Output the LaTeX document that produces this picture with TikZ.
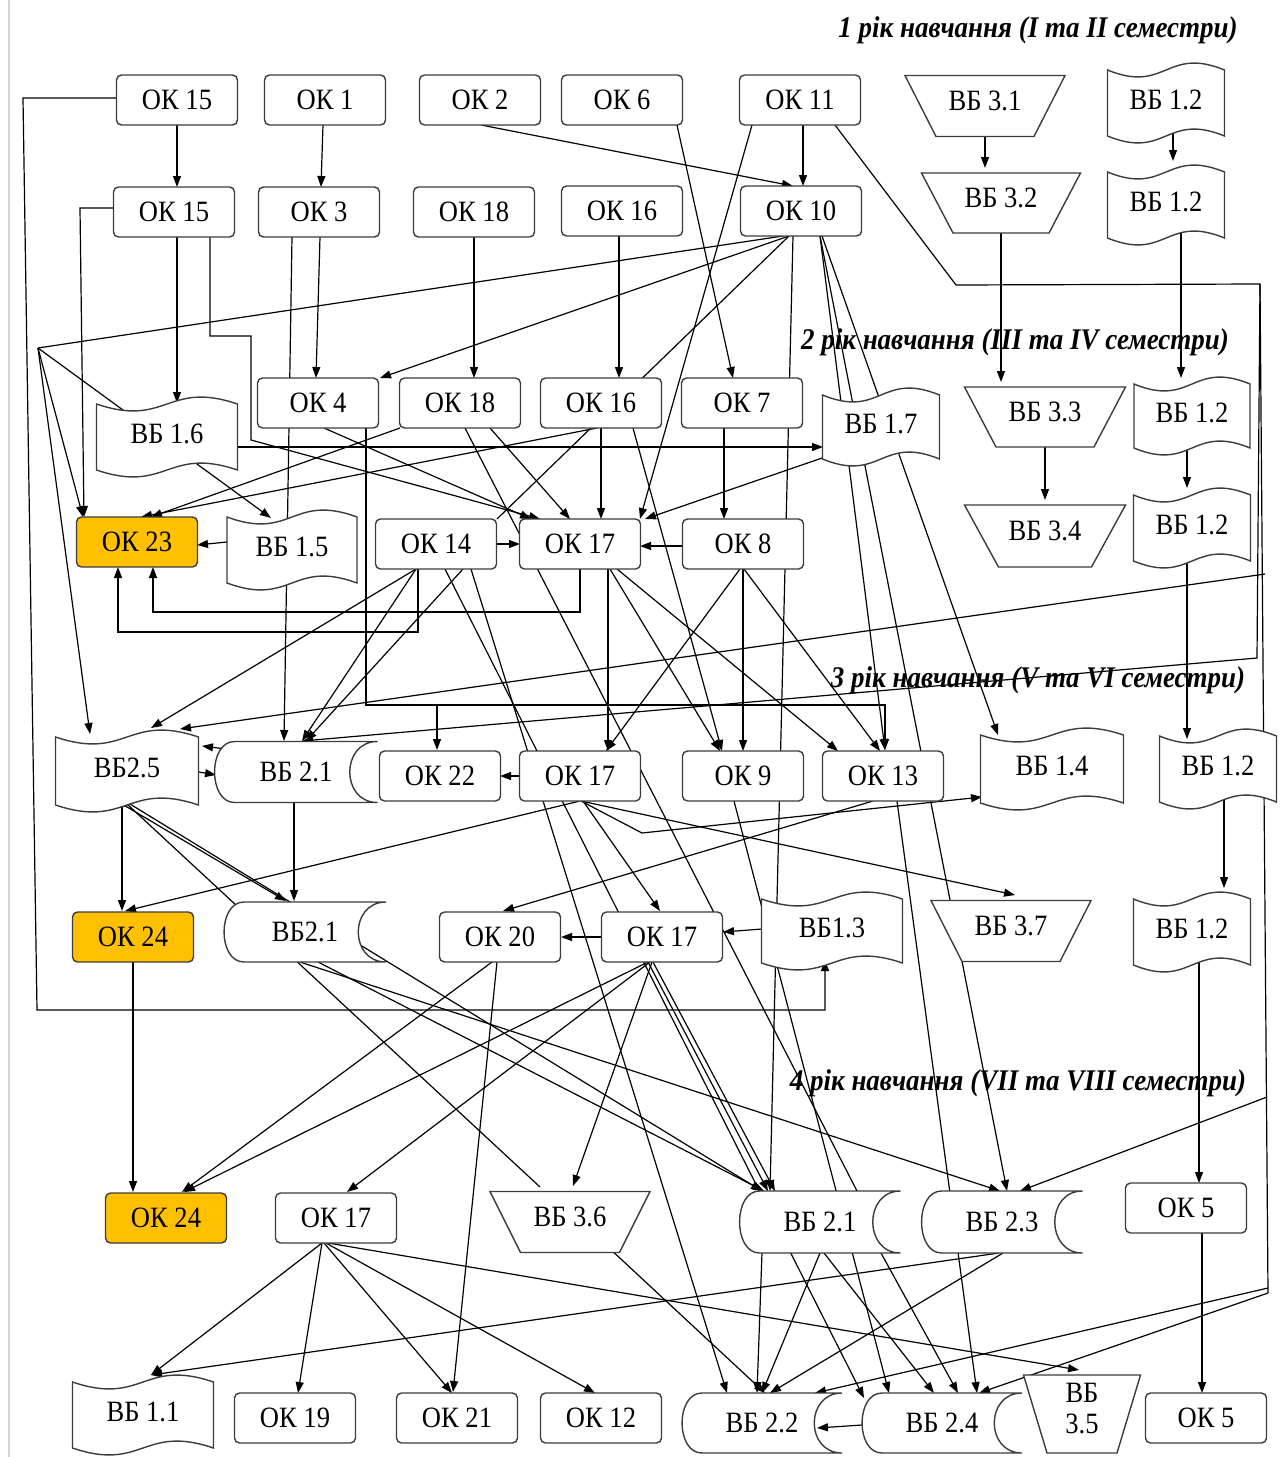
\documentclass[tikz,border=0pt]{standalone}
\usepackage{fontspec}
\setmainfont{Liberation Serif}[FakeStretch=0.9]
\usetikzlibrary{arrows.meta,calc}
\definecolor{bordc}{HTML}{3C3C3C}
\definecolor{okor}{HTML}{FFC000}
\pgfdeclarelayer{bg}
\pgfsetlayers{bg,main}
\newcommand\nodefont{\fontsize{29.5}{31}\selectfont}
\newcommand\labfont{\fontsize{30}{32}\selectfont\bfseries\itshape}
\tikzset{
 okst/.style={draw=bordc, line width=1.4pt, rounded corners=5pt, fill=white, minimum width=121pt, minimum height=50pt, inner sep=0pt, font=\nodefont},
 hlbox/.style={fill=okor},
 shp/.style={draw=bordc, line width=1.4pt, fill=white},
 txt/.style={inner sep=0pt, font=\nodefont},
 con/.style={line width=1.2pt, black},
 arr/.style={con, -{Triangle[length=11pt,width=8pt]}},
 lab/.style={font=\labfont, inner sep=0pt},
}
\newcommand\flagshape[6]{%
 \pgfmathsetmacro\fxa{#2-#4/2}\pgfmathsetmacro\fxb{#2+#4/2}%
 \pgfmathsetmacro\fya{#3-#5/2+7}\pgfmathsetmacro\fyb{#3+#5/2-7}%
 \pgfmathsetmacro\fyau{\fya+24}\pgfmathsetmacro\fyad{\fya-24}%
 \pgfmathsetmacro\fybu{\fyb-24}\pgfmathsetmacro\fybd{\fyb+24}%
 \filldraw[shp] (\fxa,\fya) .. controls (#2,\fyau) and (#2,\fyad) .. (\fxb,\fya) -- (\fxb,\fyb) .. controls (#2,\fybu) and (#2,\fybd) .. (\fxa,\fyb) -- cycle;
 \node[txt,yshift=3pt] (#1) at (#2,#3) {#6};}
\newcommand\storeshape[6]{%
 \pgfmathsetmacro\sxa{#2-#4/2}\pgfmathsetmacro\sxb{#2+#4/2}%
 \pgfmathsetmacro\sya{#3-#5/2}\pgfmathsetmacro\syb{#3+#5/2}%
 \pgfmathsetmacro\sxl{\sxa+20}\pgfmathsetmacro\sxlc{\sxa-6.6}%
 \pgfmathsetmacro\sxrc{\sxb-37}%
 \filldraw[shp] (\sxl,\sya) -- (\sxb,\sya) .. controls (\sxrc,\sya) and (\sxrc,\syb) .. (\sxb,\syb) -- (\sxl,\syb) .. controls (\sxlc,\syb) and (\sxlc,\sya) .. cycle;
 \node[txt] (#1) at (#2,#3) {#6};}
\newcommand\trapshape[7]{%
 \pgfmathsetmacro\txa{#2-#4/2}\pgfmathsetmacro\txb{#2+#4/2}%
 \pgfmathsetmacro\txc{#2-#5/2}\pgfmathsetmacro\txd{#2+#5/2}%
 \pgfmathsetmacro\tya{#3-#6/2}\pgfmathsetmacro\tyb{#3+#6/2}%
 \filldraw[shp] (\txa,\tya) -- (\txb,\tya) -- (\txd,\tyb) -- (\txc,\tyb) -- cycle;
 \node[txt,align=center,yshift=5pt] (#1) at (#2,#3) {#7};}
\begin{document}
\begin{tikzpicture}[x=1pt,y=-1pt]
\useasboundingbox (0,0) rectangle (1281,1457);
\draw[gray!35, line width=2pt] (9,0) -- (9,1457);
% row 1
\node[okst] (ok15a) at (177,100) {ОК 15};
\node[okst] (ok1) at (325,100) {ОК 1};
\node[okst] (ok2) at (480,100) {ОК 2};
\node[okst] (ok6) at (622,100) {ОК 6};
\node[okst] (ok11) at (800,100) {ОК 11};
\trapshape{vb31}{985}{106}{160}{98}{61}{ВБ 3.1}
\flagshape{vb12a}{1166}{103}{117}{80}{ВБ 1.2}
% row 2
\node[okst] (ok15b) at (174,212) {ОК 15};
\node[okst] (ok3) at (319,212) {ОК 3};
\node[okst] (ok18a) at (474,212) {ОК 18};
\node[okst] (ok16a) at (622,211) {ОК 16};
\node[okst] (ok10) at (801,211) {ОК 10};
\trapshape{vb32}{1001}{203}{159}{96}{60}{ВБ 3.2}
\flagshape{vb12b}{1166}{205}{117}{80}{ВБ 1.2}
% row 3
\node[okst] (ok4) at (318,403) {ОК 4};
\node[okst] (ok18b) at (460,403) {ОК 18};
\node[okst] (ok16b) at (601,403) {ОК 16};
\node[okst] (ok7) at (742,403) {ОК 7};
\flagshape{vb17}{881}{427}{117}{78}{ВБ 1.7}
\trapshape{vb33}{1045}{417}{161}{98}{60}{ВБ 3.3}
\flagshape{vb12c}{1192}{416}{116}{78}{ВБ 1.2}
\flagshape{vb16}{167}{437}{141}{80}{ВБ 1.6}
% row 4
\node[okst,hlbox] (ok23) at (137,542) {ОК 23};
\flagshape{vb15}{292}{550}{130}{80}{ВБ 1.5}
\node[okst] (ok14) at (436,544) {ОК 14};
\node[okst] (ok17a) at (580,544) {ОК 17};
\node[okst] (ok8) at (743,544) {ОК 8};
\trapshape{vb34}{1045}{536}{161}{93}{62}{ВБ 3.4}
\flagshape{vb12d}{1192}{528}{117}{80}{ВБ 1.2}
% row 5
\flagshape{vb25}{127}{771}{143}{82}{ВБ2.5}
\storeshape{vb21a}{296}{772}{163}{61}{ВБ 2.1}
\node[okst] (ok22) at (440,776) {ОК 22};
\node[okst] (ok17b) at (580,776) {ОК 17};
\node[okst] (ok9) at (743,776) {ОК 9};
\node[okst] (ok13) at (883,776) {ОК 13};
\flagshape{vb14}{1052}{769}{143}{82}{ВБ 1.4}
\flagshape{vb12e}{1218}{769}{117}{80}{ВБ 1.2}
% row 6
\node[okst,hlbox] (ok24a) at (133,937) {ОК 24};
\storeshape{vb21b}{305}{932}{162}{60}{ВБ2.1}
\node[okst] (ok20) at (500,937) {ОК 20};
\node[okst] (ok17c) at (662,937) {ОК 17};
\flagshape{vb13}{832}{931}{141}{78}{ВБ1.3}
\trapshape{vb37}{1011}{931}{160}{98}{61}{ВБ 3.7}
\flagshape{vb12f}{1192}{932}{117}{80}{ВБ 1.2}
% row 7
\node[okst,hlbox] (ok24b) at (166,1218) {ОК 24};
\node[okst] (ok17d) at (336,1218) {ОК 17};
\trapshape{vb36}{570}{1222}{160}{99}{61}{ВБ 3.6}
\storeshape{vb21c}{820}{1222}{161}{62}{ВБ 2.1}
\storeshape{vb23}{1002}{1222}{161}{62}{ВБ 2.3}
\node[okst] (ok5a) at (1186,1208) {ОК 5};
% row 8
\flagshape{vb11}{143}{1415}{141}{80}{ВБ 1.1}
\node[okst] (ok19) at (295,1418) {ОК 19};
\node[okst] (ok21) at (457,1418) {ОК 21};
\node[okst] (ok12) at (601,1418) {ОК 12};
\storeshape{vb22}{762}{1423}{160}{60}{ВБ 2.2}
\storeshape{vb24}{942}{1423}{160}{60}{ВБ 2.4}
\trapshape{vb35}{1082}{1414}{117}{70}{78}{ВБ\\3.5}
\node[okst] (ok5b) at (1206,1418) {ОК 5};
% labels
\node[lab] (l1) at (1038,30) {1 рік навчання (I та II семестри)};
\node[lab] (l2) at (1015,342) {2 рік навчання (III та IV семестри)};
\node[lab] (l3) at (1038,680) {3 рік навчання (V та VI семестри)};
\node[lab] (l4) at (1018,1083) {4 рік навчання (VII та VIII семестри)};
% bend points
\coordinate (hub) at (38,348);
\coordinate (kneeA) at (956,285);
\coordinate (busT) at (1260,284);
\coordinate (busC) at (1257,658);
\coordinate (busA) at (1265,574);
\coordinate (busD) at (1267,1097);
\coordinate (busE) at (1268,1288);
\coordinate (busB) at (1268,1293);
\coordinate (lpA) at (23,98);
\coordinate (lpB) at (37,1010);
\coordinate (lpC) at (825,1010);
\coordinate (lpD) at (80,208);
\coordinate (lq1) at (210,336);
\coordinate (lq2) at (251,336);
\coordinate (lq3) at (251,440);
\coordinate (r1) at (366,705);
\coordinate (r2) at (885,705);
\coordinate (r3) at (437,705);
\coordinate (u1) at (418,632);
\coordinate (u2) at (118,632);
\coordinate (v1) at (580,612);
\coordinate (v2) at (153,612);
\coordinate (w1) at (642,833);
\begin{pgfonlayer}{bg}
% top
\draw[arr] ($(ok15a)+(0,25)$) -- ($(ok15b)+(3,-25)$);
\draw[arr] ($(ok1)+(-2,25)$) -- ($(ok3)+(2,-25)$);
\draw[arr] ($(ok11)+(3,25)$) -- ($(ok10)+(2,-25)$);
\draw[arr] ($(ok2)+(1,25)$) -- ($(ok10)+(-8,-25)$);
\draw[arr] ($(ok6)+(55,25)$) -- ($(ok7)+(-9,-25)$);
\draw[arr] ($(ok11)+(-48,25)$) -- ($(ok17a)+(60,-25)$);
\draw[arr] ($(ok11)+(35,25)$) -- (kneeA) -- (busT) -- (busC) -- ($(vb21a)+(6,-31)$);
\draw[con] (busT) -- (busB);
\draw[arr] (busA) -- ($(vb25)+(53,-39)$);
\draw[arr] (busD) -- ($(vb23)+(18,-31)$);
\draw[arr] (busE) -- ($(vb22)+(53,-30)$);
\draw[arr] (busB) -- ($(vb24)+(37,-30)$);
% right chains
\draw[arr] ($(vb31)+(0,26)$) -- ($(vb32)+(-16,-30)$);
\draw[arr] ($(vb12a)+(7,27)$) -- ($(vb12b)+(7,-41)$);
\draw[arr] ($(vb32)+(0,25)$) -- ($(vb33)+(-44,-30)$);
\draw[arr] ($(vb12b)+(15,30)$) -- ($(vb12c)+(-11,-35)$);
\draw[arr] ($(vb33)+(0,25)$) -- ($(vb34)+(0,-31)$);
\draw[arr] ($(vb12c)+(-5,34)$) -- ($(vb12d)+(-5,-37)$);
\draw[arr] ($(vb12d)+(-5,31)$) -- ($(vb12e)+(-31,-27)$);
\draw[arr] ($(vb12e)+(6,30)$) -- ($(vb12f)+(32,-41)$);
\draw[arr] ($(vb12f)+(7,33)$) -- ($(ok5a)+(13,-25)$);
\draw[arr] ($(ok5a)+(16,25)$) -- ($(ok5b)+(-4,-25)$);
% left loops
\draw[arr] ($(ok15a)+(-61,-2)$) -- (lpA) -- (lpB) -- (lpC) -- ($(vb13)+(-7,32)$);
\draw[arr] ($(ok15b)+(-61,-4)$) -- (lpD) -- ($(ok23)+(-53,-25)$);
\draw[arr] ($(ok15b)+(3,25)$) -- ($(vb16)+(10,-31)$);
\draw[arr] ($(ok15b)+(36,25)$) -- (lq1) -- (lq2) -- (lq3) -- ($(ok17a)+(-40,-25)$);
\draw[arr] ($(ok3)+(-27,25)$) -- ($(vb21a)+(-12,-31)$);
\draw[arr] ($(ok3)+(1,25)$) -- ($(ok4)+(-2,-25)$);
% OK10
\draw[con] ($(ok10)+(-18,25)$) -- (hub);
\draw[arr] (hub) -- ($(ok23)+(-54,-25)$);
\draw[arr] (hub) -- ($(vb25)+(-37,-34)$);
\draw[arr] (hub) -- ($(vb15)+(-21,-29)$);
\draw[arr] ($(ok10)+(-12,25)$) -- ($(ok4)+(62,-25)$);
\draw[con] ($(ok10)+(-12,25)$) -- ($(ok14)+(61,-25)$);
\draw[arr] ($(ok10)+(-8,25)$) -- ($(vb21c)+(-50,-31)$);
\draw[arr] ($(ok10)+(19,25)$) -- ($(ok13)+(2,-26)$);
\draw[arr] ($(ok10)+(19,25)$) -- ($(vb23)+(5,-31)$);
\draw[arr] ($(ok10)+(21,25)$) -- ($(vb14)+(-54,-31)$);
\draw[arr] ($(ok18a)+(0,25)$) -- ($(ok18b)+(14,-25)$);
\draw[arr] ($(ok16a)+(-3,25)$) -- ($(ok16b)+(18,-25)$);
% row 3 out
\draw[arr] ($(ok4)+(6,25)$) -- ($(ok17a)+(-49,-25)$);
\draw[arr] ($(ok4)+(48,25)$) -- (r1) -- (r2) -- ($(ok13)+(2,-26)$);
\draw[arr] (r3) -- ($(ok22)+(-3,-26)$);
\draw[arr] ($(ok18b)+(-60,25)$) -- ($(ok23)+(14,-25)$);
\draw[arr] ($(ok16b)+(-4,25)$) -- ($(ok23)+(4,-25)$);
\draw[arr] ($(ok18b)+(30,25)$) -- ($(ok17a)+(-10,-25)$);
\draw[con] ($(ok18b)+(5,25)$) -- ($(vb21c)+(37,-31)$);
\draw[arr] ($(ok16b)+(0,25)$) -- ($(ok17a)+(21,-25)$);
\draw[arr] ($(ok16b)+(32,25)$) -- ($(ok9)+(-21,-25)$);
\draw[arr] ($(vb16)+(71,13)$) -- ($(vb17)+(-58,23)$);
\draw[arr] ($(vb17)+(-56,33)$) -- ($(ok17a)+(65,-25)$);
\draw[arr] ($(ok7)+(-18,25)$) -- ($(ok8)+(-19,-25)$);
% row 4
\draw[arr] ($(vb15)+(-65,-5)$) -- ($(ok23)+(60,3)$);
\draw[arr] ($(ok14)+(61,0)$) -- ($(ok17a)+(-60,0)$);
\draw[arr] ($(ok8)+(-60,2)$) -- ($(ok17a)+(60,2)$);
\draw[arr] ($(ok14)+(-18,25)$) -- (u1) -- (u2) -- ($(ok23)+(-19,25)$);
\draw[arr] ($(ok17a)+(0,25)$) -- (v1) -- (v2) -- ($(ok23)+(16,25)$);
\draw[arr] ($(ok14)+(-20,25)$) -- ($(vb25)+(24,-40)$);
\draw[arr] ($(ok14)+(-20,25)$) -- ($(vb21a)+(6,-31)$);
\draw[arr] ($(ok14)+(27,25)$) -- ($(vb21a)+(10,-31)$);
\draw[arr] ($(ok14)+(35,25)$) -- ($(vb22)+(-35,-30)$);
\draw[arr] ($(ok14)+(9,25)$) -- ($(vb24)+(-78,-25)$);
\draw[arr] ($(ok17a)+(28,25)$) -- ($(ok17b)+(28,-25)$);
\draw[arr] ($(ok17a)+(30,25)$) -- ($(ok9)+(-23,-25)$);
\draw[arr] ($(ok17a)+(37,25)$) -- ($(ok13)+(-45,-25)$);
\draw[arr] ($(ok8)+(0,25)$) -- ($(ok9)+(0,-25)$);
\draw[arr] ($(ok8)+(-3,25)$) -- ($(ok17b)+(26,-25)$);
\draw[arr] ($(ok8)+(1,25)$) -- ($(ok13)+(-3,-25)$);
% row 5
\draw[arr] ($(vb21a)+(-70,-23)$) -- ($(vb25)+(75,-22)$);
\draw[arr] ($(vb25)+(72,4)$) -- ($(vb21a)+(-80,3)$);
\draw[arr] ($(ok17b)+(-61,0)$) -- ($(ok22)+(60,0)$);
\draw[arr] ($(vb21a)+(-2,31)$) -- ($(vb21b)+(-11,-31)$);
\draw[arr] ($(vb25)+(-5,36)$) -- ($(ok24a)+(-11,-26)$);
\draw[arr] ($(vb25)+(-5,36)$) -- ($(vb21b)+(-19,-31)$);
\draw[con] ($(vb25)+(0,36)$) -- ($(vb36)+(-30,-30)$);
\draw[arr] ($(vb25)+(3,36)$) -- ($(vb21c)+(-58,-31)$);
\draw[arr] ($(ok17b)+(1,25)$) -- (w1) -- ($(vb14)+(-70,31)$);
\draw[arr] ($(ok17b)+(0,25)$) -- ($(ok24a)+(-8,-26)$);
\draw[arr] ($(ok17b)+(1,25)$) -- ($(vb37)+(4,-31)$);
\draw[arr] ($(ok17b)+(3,25)$) -- ($(ok17c)+(-2,-26)$);
\draw[arr] ($(ok13)+(-10,25)$) -- ($(ok20)+(3,-26)$);
\draw[arr] ($(ok9)+(-9,25)$) -- ($(vb24)+(-53,-30)$);
\draw[arr] ($(ok13)+(14,25)$) -- ($(vb24)+(35,-30)$);
% row 6
\draw[arr] ($(vb13)+(-70,1)$) -- ($(ok17c)+(61,-5)$);
\draw[arr] ($(ok17c)+(-61,0)$) -- ($(ok20)+(61,0)$);
\draw[arr] ($(ok24a)+(0,25)$) -- ($(ok24b)+(-33,-26)$);
\draw[arr] ($(ok20)+(-3,25)$) -- ($(ok21)+(-4,-26)$);
\draw[arr] ($(ok20)+(-8,25)$) -- ($(ok24b)+(16,-26)$);
\draw[arr] ($(ok17c)+(-14,25)$) -- ($(ok24b)+(18,-26)$);
\draw[arr] ($(ok17c)+(-12,25)$) -- ($(ok17d)+(11,-26)$);
\draw[arr] ($(ok17c)+(-10,25)$) -- ($(vb36)+(3,-31)$);
\draw[arr] ($(ok17c)+(-14,25)$) -- ($(vb21c)+(-52,-31)$);
\draw[arr] ($(ok17c)+(-9,25)$) -- ($(vb21c)+(-45,-31)$);
\draw[arr] ($(vb21b)+(-5,30)$) -- ($(vb23)+(-2,-31)$);
\draw[arr] ($(vb21b)+(13,30)$) -- ($(vb21c)+(-56,-31)$);
% row 7
\draw[arr] ($(vb36)+(38,30)$) -- ($(vb22)+(3,-30)$);
\draw[arr] ($(vb21c)+(-58,31)$) -- ($(vb22)+(-5,-30)$);
\draw[arr] ($(vb21c)+(0,31)$) -- ($(vb22)+(0,-30)$);
\draw[arr] ($(vb21c)+(4,31)$) -- ($(vb24)+(-8,-30)$);
\draw[arr] ($(vb21c)+(61,31)$) -- ($(vb24)+(16,-30)$);
\draw[arr] ($(vb23)+(1,31)$) -- ($(vb22)+(8,-30)$);
\draw[arr] ($(vb23)+(-3,31)$) -- ($(vb11)+(8,-37)$);
\draw[arr] ($(vb24)+(-80,2)$) -- ($(vb22)+(55,5)$);
\draw[arr] ($(ok17d)+(-14,25)$) -- ($(vb11)+(8,-37)$);
\draw[arr] ($(ok17d)+(-14,25)$) -- ($(ok19)+(3,-25)$);
\draw[arr] ($(ok17d)+(-12,25)$) -- ($(ok21)+(-5,-25)$);
\draw[arr] ($(ok17d)+(-10,25)$) -- ($(ok12)+(-6,-25)$);
\draw[arr] ($(ok17d)+(-8,25)$) -- ($(vb35)+(-3,-39)$);
\end{pgfonlayer}
\end{tikzpicture}
\end{document}
